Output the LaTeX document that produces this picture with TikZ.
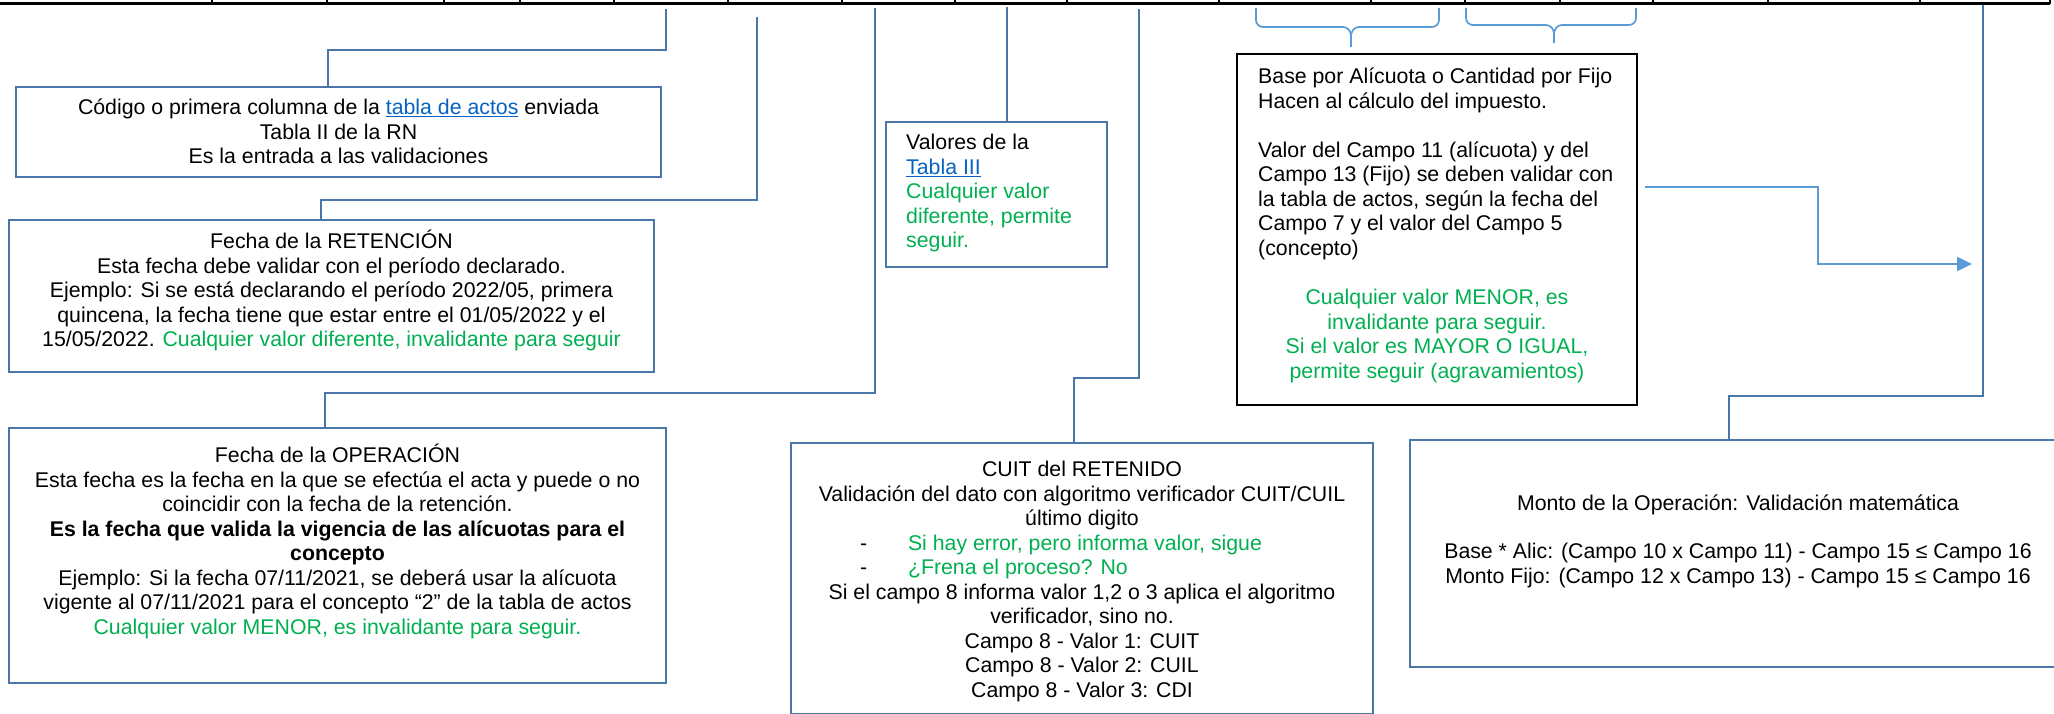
\documentclass[tikz,border=0pt]{standalone}
\usepackage{fontspec}
\setmainfont{Liberation Sans}
\usetikzlibrary{arrows.meta,positioning}
\definecolor{boxblue}{HTML}{4A76A8}
\definecolor{lightblue}{HTML}{5B9BD5}
\definecolor{okgreen}{HTML}{00B050}
\definecolor{linkblue}{HTML}{0563C1}
\newcommand{\ok}[1]{\textcolor{okgreen}{#1}}
\newcommand{\lnk}[1]{\textcolor{linkblue}{\underline{#1}}}
\newcommand{\firststrut}{\rule{0pt}{20pt}}

\begin{document}
\begin{tikzpicture}[x=1pt,y=-1pt]
          \tikzset{BoxStyle/.style = {draw=boxblue, line width=2.7pt, inner sep=0pt, outer sep=0pt, anchor=north west}}
          \tikzset{NoteStyle/.style = {inner sep=0pt, align=center, font=\fontsize{21.3}{24.5}\selectfont}}
          \tikzset{EdgeStyle/.style = {draw=boxblue, line width=2.7pt}}
          \tikzset{BraceStyle/.style = {draw=lightblue, line width=1.7pt}}
          \tikzset{RuleStyle/.style = {draw=black, line width=2pt}}

          \useasboundingbox (0,0) rectangle (2054,714);
          \clip (0,0) rectangle (2054,714);

          \draw[line width=3pt] (0,4) -- (2050,4);
          \foreach \x in {212,327,444,520,614,728,842,955,1067,1219,1371,1465,1560,1653,1768,1920,2050}
            \draw[RuleStyle] (\x,0) -- (\x,4);

          \coordinate (tA) at (666,9);
          \coordinate (tB) at (757,17);
          \coordinate (tC) at (875,8);
          \coordinate (tD) at (1007,7);
          \coordinate (tE) at (1139,9);
          \coordinate (tH) at (1983,5);

          \node[BoxStyle, minimum width=645, minimum height=90] (codigo) at (16,87) {};
          \node[BoxStyle, minimum width=645, minimum height=152] (retencion) at (9,220) {};
          \node[BoxStyle, minimum width=657, minimum height=255] (operacion) at (9,428) {};
          \node[BoxStyle, minimum width=221, minimum height=145] (valores) at (886,122) {};
          \node[BoxStyle, draw=black, line width=2pt, minimum width=400, minimum height=351] (base) at (1237,54) {};
          \node[BoxStyle, minimum width=582, minimum height=271] (cuit) at (791,443) {};
          \node[BoxStyle, minimum width=656, minimum height=227] (monto) at (1410,440) {};

          \node[NoteStyle, below=7.5pt of codigo.north] (codigoT)
            {\firststrut Código o primera columna de la \lnk{tabla de actos} enviada\\
             Tabla II de la RN\\
             Es la entrada a las validaciones};
          \node[NoteStyle, below=8.5pt of retencion.north] (retencionT)
            {\firststrut Fecha de la RETENCIÓN\\
             Esta fecha debe validar con el período declarado.\\
             Ejemplo: Si se está declarando el período 2022/05, primera\\
             quincena, la fecha tiene que estar entre el 01/05/2022 y el\\
             15/05/2022. \ok{Cualquier valor diferente, invalidante para seguir}};
          \node[NoteStyle, below=14.5pt of operacion.north] (operacionT)
            {\firststrut Fecha de la OPERACIÓN\\
             Esta fecha es la fecha en la que se efectúa el acta y puede o no\\
             coincidir con la fecha de la retención.\\
             \textbf{Es la fecha que valida la vigencia de las alícuotas para el}\\
             \textbf{concepto}\\
             Ejemplo: Si la fecha 07/11/2021, se deberá usar la alícuota\\
             vigente al 07/11/2021 para el concepto “2” de la tabla de actos\\
             \ok{Cualquier valor MENOR, es invalidante para seguir.}};
          \node[NoteStyle, align=left, below right=7.5pt and 20pt of valores.north west] (valoresT)
            {\firststrut Valores de la\\
             \lnk{Tabla III}\\
             \ok{Cualquier valor}\\
             \ok{diferente, permite}\\
             \ok{seguir.}};
          \node[NoteStyle, align=left, below right=9.5pt and 21pt of base.north west] (baseT)
            {\firststrut Base por Alícuota o Cantidad por Fijo\\
             Hacen al cálculo del impuesto.\\[24.5pt]
             Valor del Campo 11 (alícuota) y del\\
             Campo 13 (Fijo) se deben validar con\\
             la tabla de actos, según la fecha del\\
             Campo 7 y el valor del Campo 5\\
             (concepto)};
          \node[NoteStyle, below=230.5pt of base.north] (baseG)
            {\firststrut\ok{Cualquier valor MENOR, es}\\
             \ok{invalidante para seguir.}\\
             \ok{Si el valor es MAYOR O IGUAL,}\\
             \ok{permite seguir (agravamientos)}};
          \node[NoteStyle, below=13.5pt of cuit.north] (cuitT)
            {\firststrut CUIT del RETENIDO\\
             Validación del dato con algoritmo verificador CUIT/CUIL\\
             último digito\\
             \makebox[444pt][l]{\makebox[48pt][l]{-}\ok{Si hay error, pero informa valor, sigue}}\\
             \makebox[444pt][l]{\makebox[48pt][l]{-}\ok{¿Frena el proceso? No}}\\
             Si el campo 8 informa valor 1,2 o 3 aplica el algoritmo\\
             verificador, sino no.\\
             Campo 8 - Valor 1: CUIT\\
             Campo 8 - Valor 2: CUIL\\
             Campo 8 - Valor 3: CDI};
          \node[NoteStyle, below=50.5pt of monto.north] (montoT)
            {\firststrut Monto de la Operación: Validación matemática\\[23.5pt]
             Base * Alic: (Campo 10 x Campo 11) - Campo 15 ≤ Campo 16\\
             Monto Fijo: (Campo 12 x Campo 13) - Campo 15 ≤ Campo 16};

          \draw[EdgeStyle] (tA) |- (328,50) -- (328,0 |- codigo.north);
          \draw[EdgeStyle] (tB) |- (321,200) -- (321,0 |- retencion.north);
          \draw[EdgeStyle] (tC) |- (325,393) -- (325,0 |- operacion.north);
          \draw[EdgeStyle] (tD) -- (tD |- valores.north);
          \draw[EdgeStyle] (tE) |- (1074,378) -- (1074,0 |- cuit.north);
          \draw[EdgeStyle] (tH) |- (1729,396) -- (1729,0 |- monto.north);

          \coordinate (arrS) at (1645,187);
          \coordinate (arrE) at (1972,264);
          \draw[draw=lightblue, line width=2.4pt, -{Triangle[length=15pt,width=14pt]}]
            (arrS) -- (1818,187) -- (1818,264) -- (arrE);

          \foreach \l/\m/\r/\h/\t in {1256/1351/1439/27/47, 1466/1554/1636/25/43}
            \draw[BraceStyle] (\l,8) -- (\l,\h-7) to[out=-90,in=180] (\l+7,\h) -- (\m-8,\h)
              to[out=0,in=90] (\m,\h+9) -- (\m,\t)
              (\m,\h+9) to[out=90,in=180] (\m+8,\h) -- (\r-7,\h)
              to[out=0,in=-90] (\r,\h-7) -- (\r,8);
\end{tikzpicture}
\end{document}
